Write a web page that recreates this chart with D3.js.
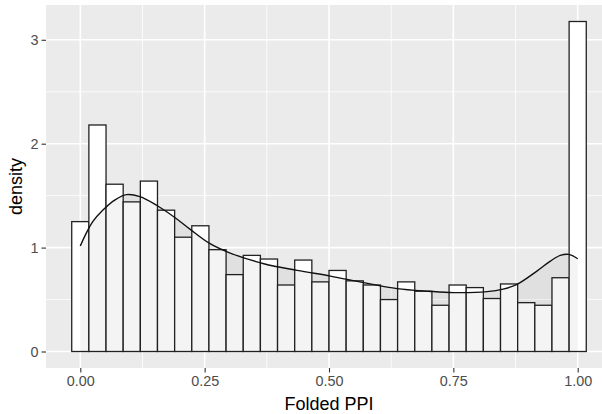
<!DOCTYPE html>
<html>
<head>
<meta charset="utf-8">
<script src="https://cdn.jsdelivr.net/npm/d3@7"></script>
<style>
  body { margin: 0; background: #fff; }
  svg text { font-family: "Liberation Sans", Arial, sans-serif; }
</style>
</head>
<body>
<div id="chart"></div>
<script>
// Histogram (30 bins over [0, 1]) of folded PPI with a density curve on top

// Bar heights (density), one per bin, left to right
var binDensity = [1.25, 2.18, 1.61, 1.44, 1.64, 1.36, 1.10, 1.21, 0.98, 0.74,
                  0.925, 0.89, 0.64, 0.88, 0.67, 0.78, 0.68, 0.64, 0.50, 0.67,
                  0.58, 0.445, 0.64, 0.615, 0.51, 0.65, 0.47, 0.445, 0.71, 3.176];

// Density curve
var curveX = [0.000, 0.010, 0.025, 0.045, 0.070, 0.093, 0.120, 0.154, 0.190,
              0.221, 0.260, 0.300, 0.369, 0.436, 0.503, 0.570, 0.637, 0.700, 0.751,
              0.818, 0.850, 0.878, 0.918, 0.945, 0.965, 0.982, 1.000];
var curveY = [1.015, 1.12, 1.25, 1.36, 1.46, 1.51, 1.49, 1.405, 1.29,
              1.175, 1.04, 0.95, 0.845, 0.781, 0.726, 0.663, 0.605, 0.58, 0.567,
              0.576, 0.60, 0.646, 0.774, 0.87, 0.925, 0.935, 0.893];

var xTicks = [0, 0.25, 0.5, 0.75, 1];
var yTicks = [0, 1, 2, 3];
var xMinor = [0.125, 0.375, 0.625, 0.875];
var yMinor = [0.5, 1.5, 2.5];

var W = 602, H = 414;
var panel = { left: 46, right: 612, top: 5, bottom: 368 };

var nBins = binDensity.length;
var bw = 1 / (nBins - 1);
var bins = binDensity.map(function (d, i) {
    return { x0: i * bw - bw / 2, x1: i * bw + bw / 2, density: d };
});

// Scales with ggplot style 5% expansion
var lo = -bw / 2, hi = 1 + bw / 2;
var xPad = 0.05 * (hi - lo);
var x = d3.scaleLinear()
    .domain([lo - xPad, hi + xPad])
    .range([panel.left, panel.right]);

var yMax = d3.max(binDensity);
var y = d3.scaleLinear()
    .domain([-0.05 * yMax, 1.05 * yMax])
    .range([panel.bottom, panel.top]);

var svg = d3.select("#chart").append("svg")
    .attr("width", W)
    .attr("height", H);

svg.append("defs").append("clipPath").attr("id", "clip")
    .append("rect")
    .attr("x", panel.left).attr("y", panel.top)
    .attr("width", panel.right - panel.left)
    .attr("height", panel.bottom - panel.top);

// Panel background
svg.append("rect")
    .attr("x", panel.left).attr("y", panel.top)
    .attr("width", panel.right - panel.left)
    .attr("height", panel.bottom - panel.top)
    .attr("fill", "#EBEBEB");

var grid = svg.append("g").attr("clip-path", "url(#clip)");

// minor grid
grid.selectAll(".vminor").data(xMinor).enter().append("line")
    .attr("x1", function (d) { return x(d); }).attr("x2", function (d) { return x(d); })
    .attr("y1", panel.top).attr("y2", panel.bottom)
    .attr("stroke", "#fff").attr("stroke-width", 0.8);
grid.selectAll(".hminor").data(yMinor).enter().append("line")
    .attr("y1", function (d) { return y(d); }).attr("y2", function (d) { return y(d); })
    .attr("x1", panel.left).attr("x2", panel.right)
    .attr("stroke", "#fff").attr("stroke-width", 0.8);
// major grid
grid.selectAll(".vmajor").data(xTicks).enter().append("line")
    .attr("x1", function (d) { return x(d); }).attr("x2", function (d) { return x(d); })
    .attr("y1", panel.top).attr("y2", panel.bottom)
    .attr("stroke", "#fff").attr("stroke-width", 1.6);
grid.selectAll(".hmajor").data(yTicks).enter().append("line")
    .attr("y1", function (d) { return y(d); }).attr("y2", function (d) { return y(d); })
    .attr("x1", panel.left).attr("x2", panel.right)
    .attr("stroke", "#fff").attr("stroke-width", 1.6);

var plot = svg.append("g").attr("clip-path", "url(#clip)");

// Histogram bars
plot.selectAll(".bar")
    .data(bins)
    .enter().append("rect")
    .attr("class", "bar")
    .attr("x", function (d) { return x(d.x0); })
    .attr("width", function (d) { return x(d.x1) - x(d.x0); })
    .attr("y", function (d) { return y(d.density); })
    .attr("height", function (d) { return y(0) - y(d.density); })
    .attr("fill", "#fff")
    .attr("stroke", "#222")
    .attr("stroke-width", 1.3);

// Density area and line
var pts = curveX.map(function (d, i) { return [d, curveY[i]]; });

var area = d3.area()
    .x(function (d) { return x(d[0]); })
    .y0(y(0))
    .y1(function (d) { return y(d[1]); })
    .curve(d3.curveCatmullRom);

var line = d3.line()
    .x(function (d) { return x(d[0]); })
    .y(function (d) { return y(d[1]); })
    .curve(d3.curveCatmullRom);

plot.append("path")
    .datum(pts)
    .attr("d", area)
    .attr("fill", "#000")
    .attr("fill-opacity", 0.045);

plot.append("path")
    .datum(pts)
    .attr("d", line)
    .attr("fill", "none")
    .attr("stroke", "#111")
    .attr("stroke-width", 1.4);

// Axes
var xAxis = svg.append("g")
    .attr("transform", "translate(0," + panel.bottom + ")")
    .call(d3.axisBottom(x).tickValues(xTicks).tickFormat(d3.format(".2f"))
        .tickSize(4.5).tickPadding(3));

var yAxis = svg.append("g")
    .attr("transform", "translate(" + panel.left + ",0)")
    .call(d3.axisLeft(y).tickValues(yTicks).tickFormat(d3.format("d"))
        .tickSize(4.5).tickPadding(3));

[xAxis, yAxis].forEach(function (g) {
    g.select(".domain").remove();
    g.selectAll(".tick line").attr("stroke", "#333").attr("stroke-width", 1.1);
    g.selectAll(".tick text")
        .attr("fill", "#4D4D4D")
        .attr("font-size", "14.4px")
        .attr("font-family", "Liberation Sans, Arial, sans-serif");
});

// Axis titles
svg.append("text")
    .attr("x", x(0.5))
    .attr("y", 410)
    .attr("text-anchor", "middle")
    .attr("font-size", "18px")
    .attr("fill", "#000")
    .text("Folded PPI");

svg.append("text")
    .attr("transform", "translate(22," + ((panel.top + panel.bottom) / 2) + ") rotate(-90)")
    .attr("text-anchor", "middle")
    .attr("font-size", "18px")
    .attr("fill", "#000")
    .text("density");
</script>
</body>
</html>
